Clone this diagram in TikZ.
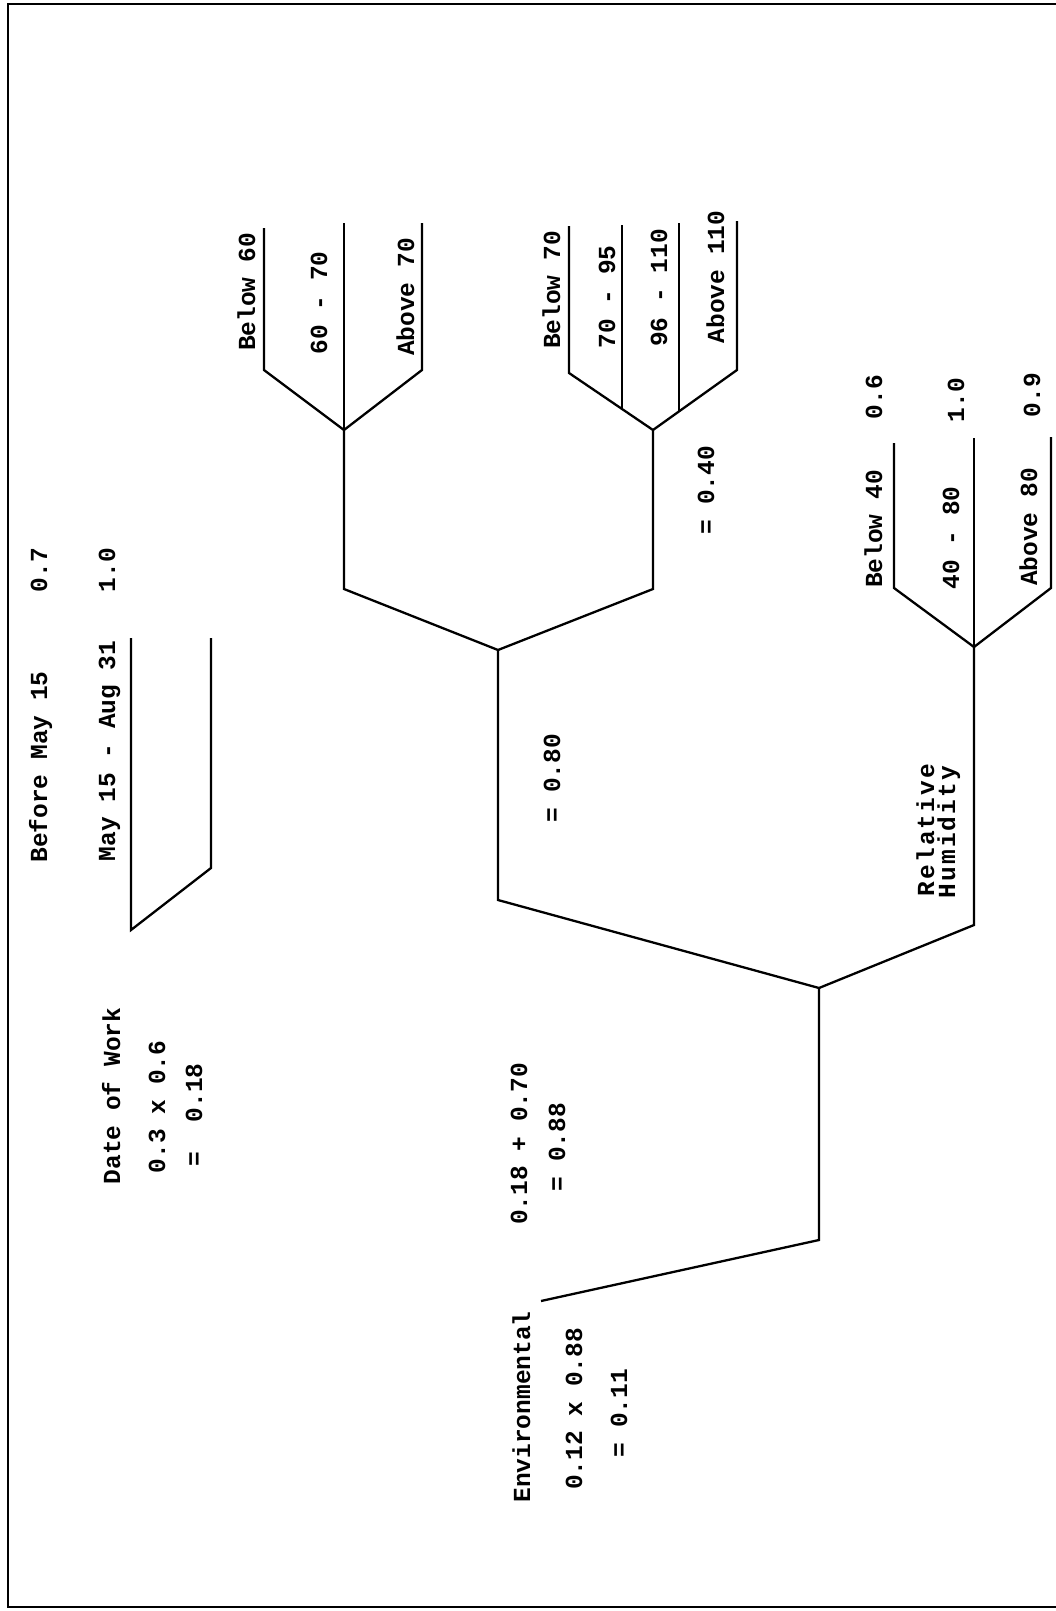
\documentclass[tikz,border=0pt]{standalone}
\usepackage{fontspec}
\setmonofont{Liberation Mono}
\usetikzlibrary{calc}
\begin{document}
\begin{tikzpicture}[x=1pt,y=-1pt,
  ln/.style={line width=2.3pt, line join=miter},
  lbl/.style={rotate=90, anchor=base, inner sep=0pt, font=\ttfamily\bfseries\fontsize{24.5}{26}\selectfont},
  wide/.style={lbl, font=\ttfamily\bfseries\fontsize{24.5}{26}\selectfont\addfontfeatures{LetterSpace=8.5}}]
\useasboundingbox (0,0) rectangle (1056,1611);
\draw[line width=2.5pt] (1056,4) -- (8,4) -- (8,1607) -- (1056,1607);

% main tree coordinates
\coordinate (root) at (541,1301);
\coordinate (r1) at (819,1240);
\coordinate (j1) at (819,988);
\coordinate (a0) at (498,900);
\coordinate (j2) at (498,650);
\coordinate (b0) at (974,925);
\coordinate (j5) at (974,647);
\coordinate (c0) at (344,589);
\coordinate (j3) at (344,430);
\coordinate (d0) at (653,589);
\coordinate (j4) at (653,430);

\draw[ln] (root) -- (r1) -- (j1);
\draw[ln] (j2) -- (a0) -- (j1) -- (b0) -- (j5);
\draw[ln] (j3) -- (c0) -- (j2) -- (d0) -- (j4);

% cluster 1
\coordinate (t1a) at (264,228); \coordinate (t1b) at (264,370);
\coordinate (t1c) at (344,223);
\coordinate (t1d) at (422,223); \coordinate (t1e) at (422,370);
\draw[ln] (t1a) -- (t1b) -- (j3) -- (t1e) -- (t1d);
\draw[ln] (j3) -- (t1c);

% cluster 2
\coordinate (t2a) at (569,226); \coordinate (t2b) at (569,373);
\coordinate (t2c) at (737,221); \coordinate (t2d) at (737,370);
\coordinate (t2m1) at ($(j4)!0.369!(t2b)$);
\coordinate (t2m2) at ($(j4)!0.31!(t2d)$);
\coordinate (t2e) at (622,225); \coordinate (t2f) at (679,223);
\draw[ln] (t2a) -- (t2b) -- (j4) -- (t2d) -- (t2c);
\draw[ln] (t2m1) -- (t2m1 |- t2e);
\draw[ln] (t2m2) -- (t2m2 |- t2f);

% cluster 3
\coordinate (t3a) at (894,443); \coordinate (t3b) at (894,588);
\coordinate (t3c) at (974,438);
\coordinate (t3d) at (1051,437); \coordinate (t3e) at (1051,588);
\draw[ln] (t3a) -- (t3b) -- (j5) -- (t3e) -- (t3d);
\draw[ln] (j5) -- (t3c);

% date fork
\coordinate (da) at (131,638); \coordinate (db) at (131,930);
\coordinate (dc) at (211,868); \coordinate (dd) at (211,638);
\draw[ln] (da) -- (db) -- (dc) -- (dd);

% labels
\node[lbl] (bm) at (47,767) {Before May 15};
\node[lbl] (v07) at (47,570) {0.7};
\node[lbl] (ma) at (115,751) {May 15 - Aug 31};
\node[lbl] (v10a) at (115,570) {1.0};
\node[lbl] (dw) at (120,1096) {Date of Work};
\node[lbl] (dw1) at (165,1107) {0.3 x 0.6};
\node[lbl] (dw2) at (202,1115) {=\ \ 0.18};
\node[lbl] (s1) at (527,1144) {0.18 + 0.70};
\node[lbl] (s2) at (565,1147) {= 0.88};
\node[lbl] (env) at (530,1407) {Environmental};
\node[lbl] (env1) at (582,1409) {0.12 x 0.88};
\node[lbl] (env2) at (627,1413) {= 0.11};
\node[lbl] (e80) at (560,778) {= 0.80};
\node[lbl] (e40) at (714,490) {= 0.40};
\node[lbl] (b60) at (255,292) {Below 60};
\node[lbl] (r6070) at (327,303) {60 - 70};
\node[lbl] (a70) at (414,297) {Above 70};
\node[lbl] (b70) at (560,290) {Below 70};
\node[lbl] (r7095) at (615,297) {70 - 95};
\node[lbl] (r96110) at (667,288) {96 - 110};
\node[lbl] (a110) at (724,277) {Above 110};
\node[wide] (rel) at (934,830) {Relative};
\node[wide] (hum) at (955,832) {Humidity};
\node[lbl] (b40) at (882,529) {Below 40};
\node[lbl] (r4080) at (959,538) {40 - 80};
\node[lbl] (a80) at (1037,527) {Above 80};
\node[lbl] (v06) at (882,397) {0.6};
\node[lbl] (v10b) at (964,400) {1.0};
\node[lbl] (v09) at (1040,395) {0.9};
\end{tikzpicture}
\end{document}
